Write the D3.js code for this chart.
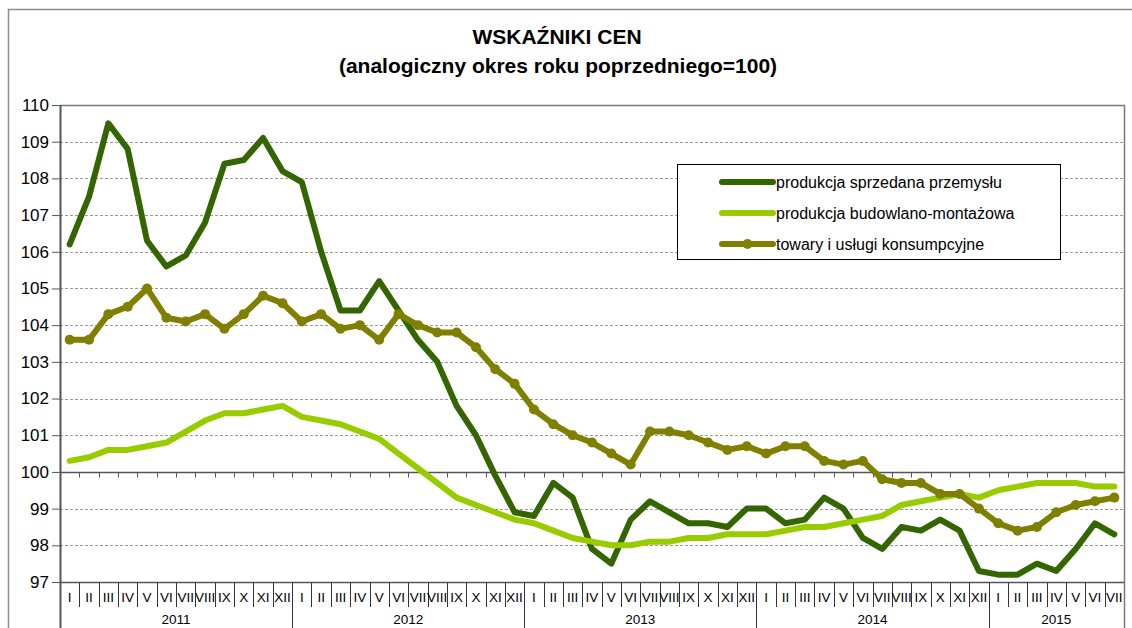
<!DOCTYPE html>
<html>
<head>
<meta charset="utf-8">
<script src="https://cdn.jsdelivr.net/npm/d3@7"></script>
<style>
  body { margin: 0; background: #fff; }
  text { font-family: "Liberation Sans", Arial, sans-serif; }
</style>
</head>
<body>
<div class="canvas"></div>
<script>
// Data
const years = ["2011", "2012", "2013", "2014", "2015"];
const monthNames = ["I", "II", "III", "IV", "V", "VI", "VII", "VIII", "IX", "X", "XI", "XII"];
const monthCount = 55; // I 2011 .. VII 2015

const przemysl = [
  106.2, 107.5, 109.5, 108.8, 106.3, 105.6, 105.9, 106.8, 108.4, 108.5, 109.1, 108.2,
  107.9, 106.0, 104.4, 104.4, 105.2, 104.4, 103.6, 103.0, 101.8, 101.0, 99.9, 98.9,
  98.8, 99.7, 99.3, 97.9, 97.5, 98.7, 99.2, 98.9, 98.6, 98.6, 98.5, 99.0,
  99.0, 98.6, 98.7, 99.3, 99.0, 98.2, 97.9, 98.5, 98.4, 98.7, 98.4, 97.3,
  97.2, 97.2, 97.5, 97.3, 97.9, 98.6, 98.3
];
const budowlanka = [
  100.3, 100.4, 100.6, 100.6, 100.7, 100.8, 101.1, 101.4, 101.6, 101.6, 101.7, 101.8,
  101.5, 101.4, 101.3, 101.1, 100.9, 100.5, 100.1, 99.7, 99.3, 99.1, 98.9, 98.7,
  98.6, 98.4, 98.2, 98.1, 98.0, 98.0, 98.1, 98.1, 98.2, 98.2, 98.3, 98.3,
  98.3, 98.4, 98.5, 98.5, 98.6, 98.7, 98.8, 99.1, 99.2, 99.3, 99.4, 99.3,
  99.5, 99.6, 99.7, 99.7, 99.7, 99.6, 99.6
];
const konsumpcja = [
  103.6, 103.6, 104.3, 104.5, 105.0, 104.2, 104.1, 104.3, 103.9, 104.3, 104.8, 104.6,
  104.1, 104.3, 103.9, 104.0, 103.6, 104.3, 104.0, 103.8, 103.8, 103.4, 102.8, 102.4,
  101.7, 101.3, 101.0, 100.8, 100.5, 100.2, 101.1, 101.1, 101.0, 100.8, 100.6, 100.7,
  100.5, 100.7, 100.7, 100.3, 100.2, 100.3, 99.8, 99.7, 99.7, 99.4, 99.4, 99.0,
  98.6, 98.4, 98.5, 98.9, 99.1, 99.2, 99.3
];
const yTicks = [97, 98, 99, 100, 101, 102, 103, 104, 105, 106, 107, 108, 109, 110];

const series = [
  { name: "produkcja sprzedana przemysłu", values: przemysl, color: "#336600", marker: false },
  { name: "produkcja budowlano-montażowa", values: budowlanka, color: "#99cc00", marker: false },
  { name: "towary i usługi konsumpcyjne", values: konsumpcja, color: "#808000", marker: true },
];

const dims = { width: 1132, height: 628 };
const plot = { left: 60, right: 1124, top: 105, bottom: 582 };

const svg = d3
  .select(".canvas")
  .append("svg")
  .attr("width", dims.width)
  .attr("height", dims.height);

// Outer chart border
svg.append("path")
  .attr("d", `M8.5,${dims.height} V9.5 H${dims.width}`)
  .attr("fill", "none")
  .attr("stroke", "#8c8c8c")
  .attr("stroke-width", 1.5);

// Title
svg.append("text")
  .attr("x", 557).attr("y", 44)
  .attr("text-anchor", "middle")
  .attr("font-size", 21).attr("font-weight", "bold")
  .text("WSKAŹNIKI CEN");
svg.append("text")
  .attr("x", 558).attr("y", 73)
  .attr("text-anchor", "middle")
  .attr("font-size", 21).attr("font-weight", "bold")
  .text("(analogiczny okres roku poprzedniego=100)");

// Scales
const months = d3.range(monthCount);
const x = d3.scaleBand().domain(months).range([plot.left, plot.right]).padding(0);
const y = d3.scaleLinear().domain([97, 110]).range([plot.bottom, plot.top]);

// Gridlines (dashed)
svg.append("g")
  .selectAll("line")
  .data(yTicks.filter((d) => d !== 97 && d !== 100 && d !== 110))
  .enter()
  .append("line")
  .attr("x1", plot.left).attr("x2", plot.right)
  .attr("y1", (d) => Math.round(y(d)) + 0.5).attr("y2", (d) => Math.round(y(d)) + 0.5)
  .attr("stroke", "#9a9a9a")
  .attr("stroke-dasharray", "3,2");

// Plot frame top and right
svg.append("path")
  .attr("d", `M${plot.left},${Math.round(y(110)) + 0.5} H${plot.right + 0.5} V${dims.height}`)
  .attr("fill", "none")
  .attr("stroke", "#7a7a7a")
  .attr("stroke-width", 1.5);

// Y axis
const yAxis = d3.axisLeft(y).tickValues(yTicks).tickSize(8).tickFormat(d3.format("d"));
const yG = svg.append("g")
  .attr("transform", `translate(${plot.left},0)`)
  .call(yAxis);
yG.select(".domain").remove();
yG.selectAll(".tick line").attr("stroke", "#555");
yG.selectAll(".tick text")
  .attr("font-size", 17)
  .attr("fill", "#000")
  .attr("font-family", "Liberation Sans, Arial, sans-serif");
svg.append("line")
  .attr("x1", plot.left + 0.5).attr("x2", plot.left + 0.5)
  .attr("y1", plot.top).attr("y2", dims.height)
  .attr("stroke", "#555").attr("stroke-width", 2);

// Category axis crossing at 100 with small ticks
const y100 = Math.round(y(100)) + 0.5;
svg.append("line")
  .attr("x1", plot.left).attr("x2", plot.right)
  .attr("y1", y100).attr("y2", y100)
  .attr("stroke", "#555").attr("stroke-width", 1.5);
svg.append("g")
  .selectAll("line")
  .data(months.slice(1))
  .enter()
  .append("line")
  .attr("x1", (d) => Math.round(x(d)) + 0.5).attr("x2", (d) => Math.round(x(d)) + 0.5)
  .attr("y1", y100).attr("y2", y100 + 5)
  .attr("stroke", "#555");

// Bottom axis: months and years
const y97 = Math.round(y(97)) + 0.5;
svg.append("line")
  .attr("x1", plot.left).attr("x2", plot.right)
  .attr("y1", y97).attr("y2", y97)
  .attr("stroke", "#555").attr("stroke-width", 1.5);

const bottom = svg.append("g");
bottom.selectAll(".msep")
  .data(months.slice(1).filter((d) => d % 12 !== 0))
  .enter()
  .append("line")
  .attr("class", "msep")
  .attr("x1", (d) => Math.round(x(d)) + 0.5).attr("x2", (d) => Math.round(x(d)) + 0.5)
  .attr("y1", y97).attr("y2", 607)
  .attr("stroke", "#333");
bottom.selectAll(".ysep")
  .data(months.filter((d) => d > 0 && d % 12 === 0))
  .enter()
  .append("line")
  .attr("class", "ysep")
  .attr("x1", (d) => Math.round(x(d)) + 0.5).attr("x2", (d) => Math.round(x(d)) + 0.5)
  .attr("y1", y97).attr("y2", dims.height)
  .attr("stroke", "#333");
bottom.selectAll(".mlab")
  .data(months)
  .enter()
  .append("text")
  .attr("class", "mlab")
  .attr("x", (d) => x(d) + x.bandwidth() / 2)
  .attr("y", 602)
  .attr("text-anchor", "middle")
  .attr("font-size", 13.5)
  .text((d) => monthNames[d % 12]);
bottom.selectAll(".ylab")
  .data(years)
  .enter()
  .append("text")
  .attr("class", "ylab")
  .attr("x", (d, i) => {
    const first = i * 12;
    const last = Math.min(first + 11, monthCount - 1);
    return (x(first) + x(last) + x.bandwidth()) / 2;
  })
  .attr("y", 624)
  .attr("text-anchor", "middle")
  .attr("font-size", 13.5)
  .text((d) => d);

// Lines
const line = d3.line()
  .x((d, i) => x(i) + x.bandwidth() / 2)
  .y((d) => y(d));

const graph = svg.append("g");
series.forEach((s) => {
  graph.append("path")
    .datum(s.values)
    .attr("d", line)
    .attr("fill", "none")
    .attr("stroke", s.color)
    .attr("stroke-width", 6)
    .attr("stroke-linejoin", "round")
    .attr("stroke-linecap", "round");
  if (s.marker) {
    graph.selectAll(".dot")
      .data(s.values)
      .enter()
      .append("circle")
      .attr("cx", (d, i) => x(i) + x.bandwidth() / 2)
      .attr("cy", (d) => y(d))
      .attr("r", 5)
      .attr("fill", s.color);
  }
});

// Legend
const legendGroup = svg.append("g").attr("transform", "translate(677,164)");
legendGroup.append("rect")
  .attr("x", 0.5).attr("y", 0.5)
  .attr("width", 383).attr("height", 95)
  .attr("fill", "#fff")
  .attr("stroke", "#000");
series.forEach((s, i) => {
  const ly = 18 + i * 31;
  legendGroup.append("line")
    .attr("x1", 45).attr("x2", 96)
    .attr("y1", ly).attr("y2", ly)
    .attr("stroke", s.color)
    .attr("stroke-width", 6)
    .attr("stroke-linecap", "round");
  if (s.marker) {
    legendGroup.append("circle")
      .attr("cx", 70.5).attr("cy", ly).attr("r", 5).attr("fill", s.color);
  }
  legendGroup.append("text")
    .attr("x", 99).attr("y", ly + 5.5)
    .attr("font-size", 16)
    .text(s.name);
});
</script>
</body>
</html>
